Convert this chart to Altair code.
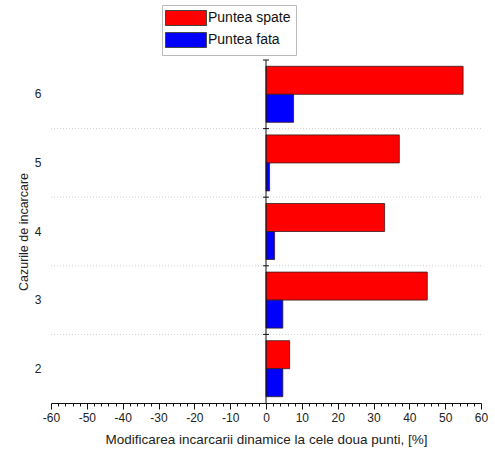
import altair as alt
import pandas as pd

cases = ["6", "5", "4", "3", "2"]
spate = [55.0, 37.2, 33.1, 45.0, 6.6]
fata = [7.7, 1.0, 2.4, 4.7, 4.7]
series = ["Puntea spate", "Puntea fata"]
colors = ["#ff0000", "#0000ff"]
x_ticks = list(range(-60, 61, 2))

rows = []
for c, s, f in zip(cases, spate, fata):
    rows.append({"case": c, "serie": series[0], "val": s})
    rows.append({"case": c, "serie": series[1], "val": f})
df = pd.DataFrame(rows)
cat_df = pd.DataFrame({"case": cases})
inner_df = pd.DataFrame({"case": cases[1:]})
zero_df = pd.DataFrame({"val": [0]})

FONT = "Liberation Sans"
W, H = 430, 343

yscale = alt.Scale(domain=cases, paddingInner=0, paddingOuter=0)
xscale = alt.Scale(domain=[-60, 60], nice=False, zero=False)

x_axis = alt.Axis(
    values=x_ticks,
    labelExpr="datum.value % 10 === 0 ? toString(datum.value) : ''",
    tickSize={"condition": {"test": "datum.value % 10 === 0", "value": 6}, "value": 3},
    title="Modificarea incarcarii dinamice la cele doua punti, [%]",
    titleFontSize=13.5,
    grid=False,
    labelOverlap=False,
    labelFlush=False,
    labelPadding=3,
    titlePadding=9,
    domainColor="#111",
    tickColor="#111",
)
y_axis = alt.Axis(
    title="Cazurile de incarcare",
    titleFontSize=12.5,
    ticks=False,
    domain=False,
    grid=False,
    labelPadding=10,
    titlePadding=4,
)

bars = alt.Chart(df).mark_bar(stroke="#3a1a1a", strokeWidth=0.8).encode(
    x=alt.X("val:Q", scale=xscale, axis=x_axis),
    y=alt.Y("case:N", scale=yscale, axis=y_axis),
    yOffset=alt.YOffset("serie:N", sort=series, scale=alt.Scale(domain=series, paddingOuter=0.225, paddingInner=0)),
    color=alt.Color(
        "serie:N",
        scale=alt.Scale(domain=series, range=colors),
        title=None,
        legend=alt.Legend(
            orient="none",
            legendX=111,
            legendY=-55,
            symbolType="M-2.73,-1H2.73V1H-2.73Z",
            symbolSize=225,
            symbolOffset=11,
            symbolStrokeColor="#444",
            symbolStrokeWidth=1,
            symbolOpacity=1,
            labelFont=FONT,
            labelFontSize=14,
            labelColor="#111",
            labelOffset=14,
            rowPadding=2,
            padding=5,
            strokeColor="#bbbbbb",
            fillColor="white",
        ),
    ),
)

grid = alt.Chart(inner_df).mark_rule(color="#cfcfcf", strokeDash=[1, 2], strokeWidth=1).encode(
    y=alt.Y("case:N", bandPosition=0, scale=yscale, axis=y_axis)
)

zero_line = alt.Chart(zero_df).mark_rule(color="#111", strokeWidth=1).encode(
    x=alt.X("val:Q", scale=xscale, axis=x_axis)
)

zero_ticks = alt.Chart(cat_df).mark_rule(color="#111", strokeWidth=1, xOffset=-3, x2Offset=3).encode(
    x=alt.datum(0, scale=xscale, axis=x_axis),
    x2=alt.datum(0),
    y=alt.Y("case:N", bandPosition=0, scale=yscale, axis=y_axis),
)

chart = (
    alt.layer(bars, grid, zero_line, zero_ticks)
    .properties(
        width=W,
        height=H,
        autosize=alt.AutoSizeParams(type="none"),
        padding={"left": 51, "top": 60, "right": 14, "bottom": 55},
    )
    .configure_view(stroke=None)
    .configure_axis(
        labelFont=FONT,
        titleFont=FONT,
        labelFontSize=12,
        labelColor="#222",
        titleColor="#222",
        titleFontWeight="normal",
        labelOverlap=False,
    )
)

chart.save("out.html", embed_options={"renderer": "svg", "actions": False})
